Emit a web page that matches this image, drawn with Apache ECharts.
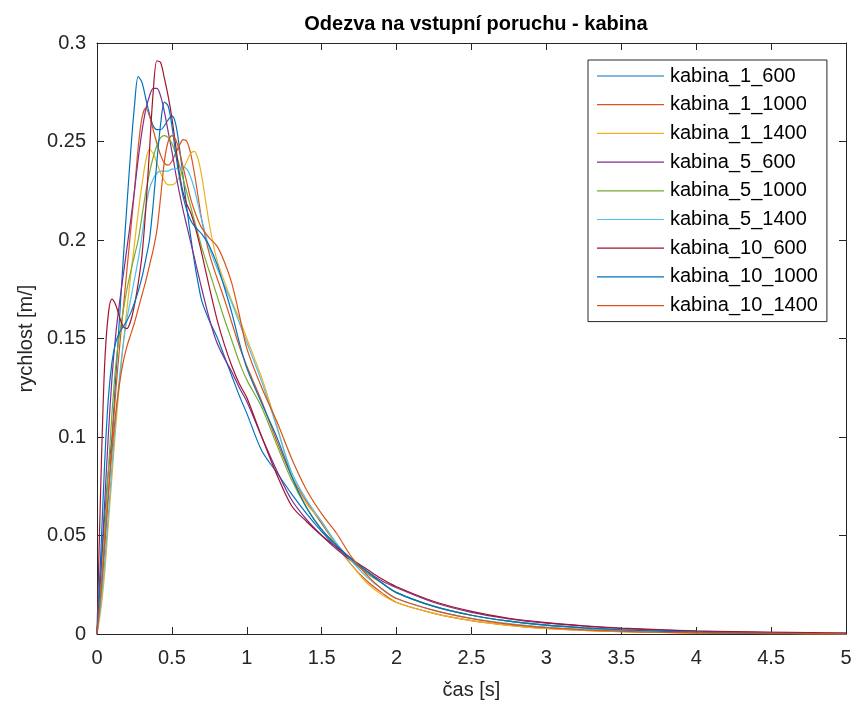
<!DOCTYPE html>
<html>
<head>
<meta charset="utf-8">
<script src="https://cdn.jsdelivr.net/npm/echarts@6/dist/echarts.min.js"></script>
<style>
html, body { margin: 0; padding: 0; background: #fff; }
#chart { width: 858px; height: 709px; }
</style>
</head>
<body>
<div id="chart"></div>
<script>
var chart = echarts.init(document.getElementById('chart'));

// cas [s]
var T = [0, 0.025, 0.05, 0.075, 0.1, 0.125, 0.15, 0.175, 0.2, 0.225, 0.25, 0.275, 0.3, 0.325, 0.35,
  0.375, 0.4, 0.425, 0.45, 0.475, 0.5, 0.525, 0.55, 0.575, 0.6, 0.625, 0.65, 0.675, 0.7,
  0.75, 0.8, 0.85, 0.9, 0.95, 1.0,
  1.1, 1.2, 1.3, 1.4, 1.5, 1.6, 1.7, 1.8, 1.9, 2.0,
  2.25, 2.5, 2.75, 3.0, 3.25, 3.5, 3.75, 4.0, 4.25, 4.5, 4.75, 5.0];

var names = ['kabina_1_600', 'kabina_1_1000', 'kabina_1_1400', 'kabina_5_600', 'kabina_5_1000',
  'kabina_5_1400', 'kabina_10_600', 'kabina_10_1000', 'kabina_10_1400'];

// rychlost [m/]
var k1_600 = [0, 0.03, 0.058, 0.082, 0.10, 0.13, 0.16, 0.19, 0.218, 0.245, 0.268, 0.283, 0.280, 0.272, 0.264,
  0.258, 0.256, 0.256, 0.258, 0.261, 0.263, 0.259, 0.247, 0.232, 0.216, 0.202, 0.189, 0.178, 0.169,
  0.159, 0.151, 0.141, 0.131, 0.121, 0.112,
  0.093, 0.082, 0.071, 0.061, 0.052, 0.044, 0.037, 0.031, 0.026, 0.021,
  0.014, 0.0095, 0.0065, 0.0045, 0.0031, 0.0021, 0.0015, 0.001, 0.0007, 0.0005, 0.0003, 0.0002];
var k1_1000 = [0, 0.018, 0.042, 0.07, 0.097, 0.123, 0.145, 0.165, 0.185, 0.205, 0.225, 0.247, 0.262, 0.267, 0.263,
  0.256, 0.249, 0.243, 0.239, 0.238, 0.240, 0.244, 0.248, 0.251, 0.250, 0.244, 0.234, 0.222, 0.210,
  0.193, 0.181, 0.170, 0.158, 0.146, 0.136,
  0.118, 0.098, 0.080, 0.067, 0.056, 0.045, 0.035, 0.027, 0.021, 0.016,
  0.0105, 0.0068, 0.0044, 0.0028, 0.0018, 0.0012, 0.0008, 0.0005, 0.0003, 0.0002, 0.0001, 0.0001];
var k1_1400 = [0, 0.012, 0.03, 0.055, 0.08, 0.105, 0.127, 0.147, 0.165, 0.182, 0.198, 0.214, 0.228, 0.240, 0.246,
  0.244, 0.239, 0.234, 0.230, 0.228, 0.228, 0.229, 0.232, 0.236, 0.240, 0.244, 0.245, 0.241, 0.232,
  0.208, 0.190, 0.179, 0.169, 0.160, 0.150,
  0.130, 0.106, 0.080, 0.066, 0.057, 0.045, 0.035, 0.026, 0.020, 0.016,
  0.0105, 0.0068, 0.0044, 0.0028, 0.0018, 0.0012, 0.0008, 0.0005, 0.0003, 0.0002, 0.0001, 0.0001];
var k5_600 = [0, 0.03, 0.065, 0.1, 0.13, 0.152, 0.168, 0.182, 0.196, 0.21, 0.225, 0.241, 0.255, 0.266, 0.273,
  0.277, 0.277, 0.273, 0.265, 0.255, 0.245, 0.234, 0.224, 0.215, 0.207, 0.199, 0.191, 0.183, 0.175,
  0.160, 0.148, 0.140, 0.133, 0.125, 0.118,
  0.100, 0.083, 0.068, 0.058, 0.050, 0.043, 0.037, 0.032, 0.027, 0.0235,
  0.016, 0.011, 0.0077, 0.0055, 0.004, 0.0028, 0.002, 0.0014, 0.001, 0.0008, 0.0006, 0.0004];
var k5_1000 = [0, 0.022, 0.05, 0.082, 0.112, 0.136, 0.152, 0.164, 0.175, 0.184, 0.192, 0.20, 0.212, 0.224, 0.234,
  0.242, 0.248, 0.252, 0.253, 0.252, 0.249, 0.244, 0.238, 0.231, 0.224, 0.217, 0.21, 0.203, 0.196,
  0.184, 0.172, 0.160, 0.149, 0.138, 0.129,
  0.115, 0.096, 0.078, 0.064, 0.053, 0.045, 0.038, 0.031, 0.026, 0.021,
  0.014, 0.0095, 0.0065, 0.0045, 0.0031, 0.0021, 0.0015, 0.001, 0.0007, 0.0005, 0.0003, 0.0002];
var k5_1400 = [0, 0.015, 0.035, 0.06, 0.085, 0.11, 0.13, 0.147, 0.16, 0.17, 0.18, 0.19, 0.202, 0.216, 0.226,
  0.231, 0.234, 0.235, 0.235, 0.235, 0.236, 0.236, 0.237, 0.237, 0.236, 0.232, 0.226, 0.218, 0.210,
  0.196, 0.186, 0.177, 0.168, 0.158, 0.148,
  0.128, 0.105, 0.082, 0.068, 0.057, 0.046, 0.037, 0.029, 0.023, 0.018,
  0.012, 0.008, 0.0053, 0.0035, 0.0024, 0.0016, 0.0011, 0.0007, 0.0005, 0.0003, 0.0002, 0.0001];
var k10_600 = [0, 0.075, 0.135, 0.162, 0.170, 0.167, 0.161, 0.156, 0.155, 0.159, 0.167, 0.178, 0.192, 0.215, 0.245,
  0.275, 0.291, 0.290, 0.282, 0.273, 0.262, 0.248, 0.234, 0.224, 0.218, 0.214, 0.208, 0.201, 0.193,
  0.176, 0.160, 0.147, 0.136, 0.127, 0.120,
  0.100, 0.081, 0.065, 0.057, 0.050, 0.044, 0.038, 0.033, 0.028, 0.024,
  0.0165, 0.0115, 0.008, 0.0058, 0.0042, 0.003, 0.0022, 0.0016, 0.0012, 0.0009, 0.0007, 0.0005];
var k10_1000 = [0, 0.04, 0.085, 0.119, 0.138, 0.148, 0.153, 0.156, 0.159, 0.163, 0.168, 0.174, 0.181, 0.19, 0.2,
  0.218, 0.24, 0.259, 0.270, 0.268, 0.258, 0.244, 0.232, 0.222, 0.215, 0.210, 0.207, 0.205, 0.203,
  0.197, 0.188, 0.176, 0.163, 0.148, 0.135,
  0.117, 0.100, 0.080, 0.064, 0.053, 0.045, 0.038, 0.032, 0.026, 0.021,
  0.014, 0.0095, 0.0065, 0.0045, 0.0031, 0.0021, 0.0015, 0.001, 0.0007, 0.0005, 0.0003, 0.0002];
var k10_1400 = [0, 0.02, 0.045, 0.07, 0.093, 0.112, 0.127, 0.138, 0.146, 0.152, 0.158, 0.165, 0.172, 0.179, 0.187,
  0.195, 0.205, 0.222, 0.24, 0.25, 0.253, 0.251, 0.245, 0.237, 0.229, 0.221, 0.215, 0.21, 0.206,
  0.201, 0.197, 0.189, 0.178, 0.162, 0.145,
  0.125, 0.108, 0.089, 0.073, 0.061, 0.051, 0.039, 0.030, 0.023, 0.018,
  0.012, 0.0078, 0.005, 0.0032, 0.0021, 0.0014, 0.0009, 0.0006, 0.0004, 0.0003, 0.0002, 0.0001];

var values = [k1_600, k1_1000, k1_1400, k5_600, k5_1000, k5_1400, k10_600, k10_1000, k10_1400];
var colors = ['#0072BD', '#D95319', '#EDB120', '#7E2F8E', '#77AC30', '#4DBEEE', '#A2142F', '#0072BD', '#D95319'];

var font = 'Liberation Sans, Arial, sans-serif';
var axisColor = '#262626';

var series = [];
for (var i = 0; i < names.length; i++) {
    var d = [];
    for (var j = 0; j < T.length; j++) {
        d.push([T[j], values[i][j]]);
    }
    series.push({
        name: names[i],
        type: 'line',
        data: d,
        smooth: 0.3,
        symbol: 'none',
        lineStyle: { width: 1.2, color: colors[i] },
        itemStyle: { color: colors[i] }
    });
}

function valueAxis(pos, showLabel, extra) {
    var ax = {
        type: 'value',
        position: pos,
        axisLine: { show: true, onZero: false, lineStyle: { color: axisColor, width: 1 } },
        axisTick: { show: true, inside: true, length: 7, lineStyle: { color: axisColor } },
        axisLabel: { show: showLabel, color: axisColor, fontFamily: font, fontSize: 20 },
        splitLine: { show: false }
    };
    for (var k in extra) ax[k] = extra[k];
    return ax;
}

var option = {
    backgroundColor: '#fff',
    animation: false,
    color: colors,
    title: {
        text: 'Odezva na vstupní poruchu - kabina',
        left: 471,
        top: 9,
        textAlign: 'center',
        textStyle: { fontFamily: font, fontSize: 20, fontWeight: 'bold', color: '#000' }
    },
    grid: { left: 97, top: 43, width: 749, height: 591, containLabel: false },
    legend: {
        orient: 'vertical',
        left: 588,
        top: 60,
        data: names,
        icon: 'rect',
        itemWidth: 67,
        itemHeight: 1.2,
        itemGap: 8.7,
        padding: [6, 9, 6, 9],
        backgroundColor: '#fff',
        borderColor: axisColor,
        borderWidth: 1,
        borderRadius: 0,
        textStyle: { fontFamily: font, fontSize: 20, color: '#000', lineHeight: 20, padding: [0, 0, 0, 1] }
    },
    xAxis: [
        valueAxis('bottom', true, {
            min: 0, max: 5, interval: 0.5,
            name: 'čas [s]', nameLocation: 'middle', nameGap: 46,
            nameTextStyle: { fontFamily: font, fontSize: 20, color: axisColor },
            axisLabel: { show: true, color: axisColor, fontFamily: font, fontSize: 20, margin: 14 }
        }),
        valueAxis('top', false, { min: 0, max: 5, interval: 0.5 })
    ],
    yAxis: [
        valueAxis('left', true, {
            min: 0, max: 0.3, interval: 0.05,
            name: 'rychlost [m/]', nameLocation: 'middle', nameGap: 61,
            nameTextStyle: { fontFamily: font, fontSize: 20, color: axisColor },
            axisLabel: { show: true, color: axisColor, fontFamily: font, fontSize: 20, margin: 11 }
        }),
        valueAxis('right', false, { min: 0, max: 0.3, interval: 0.05 })
    ],
    series: series
};

chart.setOption(option);
</script>
</body>
</html>
